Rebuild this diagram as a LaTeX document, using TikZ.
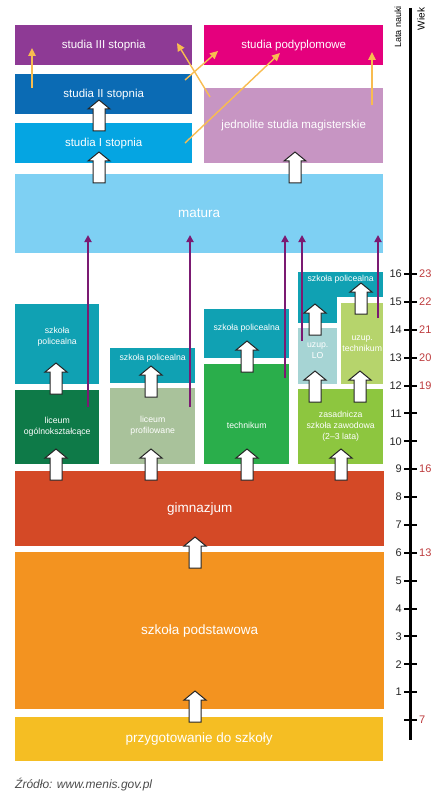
\documentclass[tikz,border=0pt]{standalone}
\usepackage{fontspec}
\setmainfont{Liberation Sans}
\definecolor{szkStudiaIII}{HTML}{8E3A95}
\definecolor{szkPodypl}{HTML}{E5007D}
\definecolor{szkStudiaII}{HTML}{0B6BB4}
\definecolor{szkStudiaI}{HTML}{05A5E2}
\definecolor{szkJednolite}{HTML}{C795C3}
\definecolor{szkMatura}{HTML}{7ED0F3}
\definecolor{szkPolic}{HTML}{10A1B3}
\definecolor{szkLiceumOg}{HTML}{0E7A48}
\definecolor{szkLiceumProf}{HTML}{A9C29B}
\definecolor{szkTechnikum}{HTML}{2AAE4B}
\definecolor{szkUzupLO}{HTML}{A6D4D4}
\definecolor{szkUzupTech}{HTML}{B6D46C}
\definecolor{szkZawod}{HTML}{8DC63F}
\definecolor{szkGimn}{HTML}{D44926}
\definecolor{szkPodst}{HTML}{F39320}
\definecolor{szkPrzyg}{HTML}{F5BE23}
\definecolor{szkOranz}{HTML}{F8BC50}
\definecolor{szkFiolet}{HTML}{7B1A72}
\definecolor{szkWiek}{HTML}{BD3B3D}
\usetikzlibrary{
	arrows.meta
}
\tikzset{
	blok/.style={
		anchor=north west,
		inner sep=0pt,
		align=center,
		text=white,
		font=\fontsize{11.5}{13}\selectfont
	},
	blokDuzy/.style={
		blok,
		font=\fontsize{13.5}{15}\selectfont
	},
	blokMaly/.style={
		blok,
		font=\fontsize{8.7}{11}\selectfont
	},
	napisMaly/.style={
		align=center,
		text=white,
		inner sep=0pt,
		font=\fontsize{8.7}{11}\selectfont
	},
	flechaOranz/.style={
		-{Triangle[length=8pt,width=7.5pt]},
		line width=1.4pt,
		szkOranz
	},
	flechaFiolet/.style={
		-{Triangle[length=7pt,width=7pt]},
		line width=1.8pt,
		szkFiolet
	},
	pics/wzwyz/.style={
		code={
			\draw[draw=black!85, fill=white, line width=1pt, line join=miter]
				(-6,0) -- (-6,-22) -- (-11,-22) -- (0,-31) -- (11,-22) -- (6,-22) -- (6,0) -- cycle;
		}
	}
}

\begin{document}
\begin{tikzpicture}[x=1pt, y=-1pt]
		\useasboundingbox (0,0) rectangle (443,802);
		% uczelnie
		\node[blok, fill=szkStudiaIII, minimum width=177, minimum height=40] (st3) at (15,25) {studia III stopnia};
		\node[blok, fill=szkPodypl, minimum width=179, minimum height=40] (podypl) at (204,25) {studia podyplomowe};
		\node[blok, fill=szkStudiaII, minimum width=177, minimum height=40] (st2) at (15,74) {studia II stopnia};
		\node[blok, fill=szkStudiaI, minimum width=177, minimum height=40] (st1) at (15,123) {studia I stopnia};
		\node[blok, fill=szkJednolite, minimum width=179, minimum height=75] (jedn) at (204,88) {jednolite studia magisterskie};
		\node[blokDuzy, fill=szkMatura, minimum width=368, minimum height=79] (matura) at (15,174) {matura};
		% szkoly ponadgimnazjalne
		\node[blokMaly, fill=szkPolic, minimum width=84, minimum height=80,
			label={[napisMaly, yshift=7pt]center:szkoła\\policealna}] (pol1) at (15,304) {};
		\node[blokMaly, fill=szkLiceumOg, minimum width=84, minimum height=74] (lo) at (15,390) {liceum\\ogólnokształcące};
		\node[blokMaly, fill=szkPolic, minimum width=85, minimum height=35,
			label={[napisMaly, yshift=7pt]center:szkoła policealna}] (pol2) at (110,348) {};
		\node[blokMaly, fill=szkLiceumProf, minimum width=85, minimum height=76] (lp) at (110,388) {liceum\\profilowane};
		\node[blokMaly, fill=szkPolic, minimum width=85, minimum height=49,
			label={[napisMaly, yshift=5pt]center:szkoła policealna}] (pol3) at (204,309) {};
		\node[blokMaly, fill=szkTechnikum, minimum width=85, minimum height=100,
			label={[napisMaly, yshift=-11pt]center:technikum}] (tech) at (204,364) {};
		\fill[szkPolic] (298,296) rectangle (337,323);
		\node[blokMaly, fill=szkPolic, minimum width=85, minimum height=25,
			label={[napisMaly, yshift=5pt]center:szkoła policealna}] (pol4) at (298,272) {};
		\node[blokMaly, fill=szkUzupLO, minimum width=39, minimum height=56,
			label={[napisMaly, yshift=5pt]center:uzup.\\LO}] (ulo) at (298,328) {};
		\node[blokMaly, fill=szkUzupTech, minimum width=42, minimum height=81] (ut) at (341,303) {uzup.\\technikum};
		\node[blokMaly, fill=szkZawod, minimum width=85, minimum height=75] (zsz) at (298,389) {zasadnicza\\szkoła zawodowa\\(2--3 lata)};
		% szkoly podstawowe
		\node[blokDuzy, fill=szkGimn, minimum width=369, minimum height=75] (gimn) at (15,471) {gimnazjum};
		\node[blokDuzy, fill=szkPodst, minimum width=369, minimum height=157] (podst) at (15,552) {szkoła podstawowa};
		\node[blokDuzy, fill=szkPrzyg, minimum width=368, minimum height=44] (przyg) at (15,717) {przygotowanie do szkoły};

		% strzalki blokowe
		\pic (s-przyg) at (195,722) {wzwyz};
		\pic (s-podst) at (195,568) {wzwyz};
		\foreach \x in {56,151,247,341}
			\pic (s-gimn-\x) at (\x,480) {wzwyz};
		\pic (s-lo) at (56,394) {wzwyz};
		\pic (s-lp) at (151,397) {wzwyz};
		\pic (s-tech) at (247,372) {wzwyz};
		\pic (s-zsz-lo) at (315,402) {wzwyz};
		\pic (s-zsz-t) at (360,402) {wzwyz};
		\pic (s-ulo) at (315,335) {wzwyz};
		\pic (s-ut) at (361,314) {wzwyz};
		\pic (s-mat1) at (99,183) {wzwyz};
		\pic (s-mat2) at (295,183) {wzwyz};
		\pic (s-st1) at (99,131) {wzwyz};

		% do matury
		\foreach \n/\x/\y in {lo/88/407, lp/190/407, tech/285/378, ulo/302/341, ut/378/318} {
			\coordinate (\n-start) at (\x,\y);
			\coordinate (\n-mat) at (\x,235);
			\draw[flechaFiolet] (\n-start) -- (\n-mat);
		}

		% dalsze studia
		\coordinate (o1a) at (32,88);   \coordinate (o1b) at (32,48);
		\coordinate (o2a) at (210,97);  \coordinate (o2b) at (177,43);
		\coordinate (o3a) at (185,80);  \coordinate (o3b) at (218,51);
		\coordinate (o4a) at (185,143); \coordinate (o4b) at (280,53);
		\coordinate (o5a) at (372,105); \coordinate (o5b) at (372,52);
		\foreach \i in {1,...,5}
			\draw[flechaOranz] (o\i a) -- (o\i b);

		% os lat
		\draw[line width=3pt] (410.5,8) -- (410.5,740);
		\foreach \k in {0,...,16}
			\draw[line width=2pt] (404,{720-27.875*\k}) -- (417,{720-27.875*\k});
		\foreach \k in {1,...,16}
			\node[anchor=east, inner sep=0pt, font=\fontsize{11}{12}\selectfont, text=black!85] (lata-\k) at (402,{720-27.875*\k}) {\k};
		\foreach \k/\w in {0/7, 6/13, 9/16, 12/19, 13/20, 14/21, 15/22, 16/23}
			\node[anchor=west, inner sep=0pt, font=\fontsize{11}{12}\selectfont, text=szkWiek] (wiek-\w) at (419,{720-27.875*\k}) {\w};
		\node[rotate=90, anchor=center, inner sep=0pt, font=\fontsize{9}{10}\selectfont] (lata) at (398,27) {Lata nauki};
		\node[rotate=90, anchor=center, inner sep=0pt, font=\fontsize{10}{11}\selectfont] (wiek) at (421,19) {Wiek};

		\node[anchor=west, inner sep=0pt, text=black!70, font=\itshape\fontsize{12}{13}\selectfont] (zrodlo) at (15,785) {Źródło: www.menis.gov.pl};
	\end{tikzpicture}
\end{document}
